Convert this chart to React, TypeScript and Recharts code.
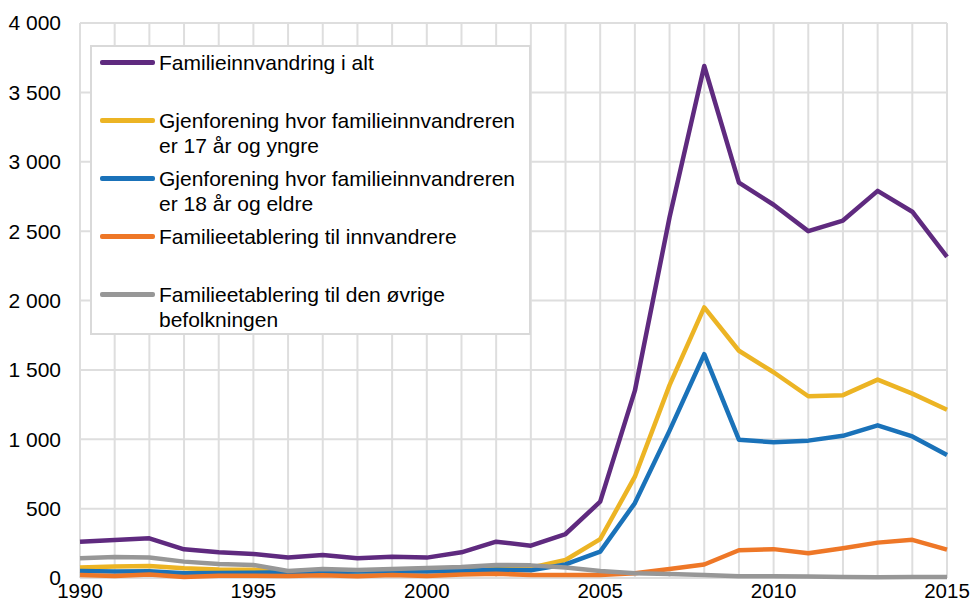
import React from "react";
import { LineChart, Line, XAxis, YAxis, CartesianGrid, Legend } from "recharts";

const years = [
  1990, 1991, 1992, 1993, 1994, 1995, 1996, 1997, 1998, 1999, 2000, 2001, 2002,
  2003, 2004, 2005, 2006, 2007, 2008, 2009, 2010, 2011, 2012, 2013, 2014, 2015,
];
const yTicks = [0, 500, 1000, 1500, 2000, 2500, 3000, 3500, 4000];

const total = [
  262, 274, 286, 207, 185, 173, 147, 166, 142, 154, 147, 185, 262, 233, 317, 550,
  1350, 2600, 3690, 2850, 2690, 2500, 2576, 2790, 2640, 2315,
];
const young = [
  75, 82, 86, 70, 62, 60, 46, 50, 48, 52, 55, 60, 70, 75, 130, 280, 730, 1390,
  1950, 1638, 1483, 1310, 1318, 1430, 1329, 1213,
];
const adult = [
  50, 46, 48, 34, 36, 38, 41, 41, 46, 46, 46, 50, 60, 55, 98, 190, 540, 1062,
  1613, 997, 978, 990, 1025, 1100, 1020, 887,
];
const estabImm = [
  22, 14, 26, 7, 17, 17, 14, 19, 12, 22, 14, 26, 31, 22, 22, 22, 35, 65, 97, 200,
  208, 178, 215, 255, 275, 205,
];
const estabRest = [
  142, 151, 147, 118, 101, 94, 50, 65, 58, 65, 72, 79, 94, 91, 75, 50, 34, 29, 22,
  12, 12, 10, 8, 5, 8, 7,
];

const seriesKeys = ["total", "young", "adult", "estabImm", "estabRest"];
const seriesNames = [
  "Familieinnvandring i alt",
  "Gjenforening hvor familieinnvandreren\ner 17 år og yngre",
  "Gjenforening hvor familieinnvandreren\ner 18 år og eldre",
  "Familieetablering til innvandrere",
  "Familieetablering til den øvrige\nbefolkningen",
];
const seriesColors = ["#5f2a7f", "#ecb424", "#1a72b9", "#ee7727", "#979797"];

const data = years.map((year, i) => ({
  year,
  total: total[i],
  young: young[i],
  adult: adult[i],
  estabImm: estabImm[i],
  estabRest: estabRest[i],
}));

const FONT = "'Liberation Sans', Arial, sans-serif";

const fmt = (v: number) =>
  String(v).replace(/\B(?=(\d{3})+(?!\d))/g, " ");

const LegendBox = () => {
  return (
    <div
      style={{
        width: 441,
        height: 290,
        boxSizing: "border-box",
        border: "2px solid #d9d9d9",
        background: "#fff",
        paddingTop: 3,
        fontFamily: FONT,
        fontSize: 21,
        color: "#000",
      }}
    >
      {seriesNames.map((name, i) => (
        <div key={i} style={{ display: "flex", height: 58 }}>
          <div
            style={{
              width: 55,
              height: 4.5,
              marginLeft: 8,
              marginTop: 10.25,
              marginRight: 4,
              borderRadius: 2,
              background: seriesColors[i],
              flexShrink: 0,
            }}
          />
          <div style={{ whiteSpace: "pre", lineHeight: "25px" }}>{name}</div>
        </div>
      ))}
    </div>
  );
};

export default function App() {
  return (
    <div style={{ position: "absolute", left: 0, top: 0, background: "#fff" }}>
      <LineChart
        width={971}
        height={604}
        data={data}
        margin={{ top: 23, right: 24, left: 10, bottom: 0 }}
      >
        <CartesianGrid stroke="#dedede" strokeWidth={2} />
        <XAxis
          dataKey="year"
          type="number"
          domain={[1990, 2015]}
          ticks={years}
          interval={0}
          tickFormatter={(v: number) => (v % 5 === 0 ? String(v) : "")}
          axisLine={false}
          tickLine={false}
          tickSize={0}
          tickMargin={5}
          height={26}
          tick={{ fill: "#000", fontSize: 20.5, fontFamily: FONT }}
        />
        <YAxis
          domain={[0, 4000]}
          ticks={yTicks}
          interval={0}
          tickFormatter={fmt}
          axisLine={false}
          tickLine={false}
          tickSize={0}
          tickMargin={19}
          width={70}
          tick={{ fill: "#000", fontSize: 21, fontFamily: FONT }}
        />
        <Legend
          layout="vertical"
          align="center"
          verticalAlign="middle"
          content={<LegendBox />}
          wrapperStyle={{ left: 90, top: 45, width: 441, height: 290 }}
        />
        {seriesKeys.map((key, i) => (
          <Line
            key={key}
            dataKey={key}
            name={seriesNames[i]}
            stroke={seriesColors[i]}
            strokeWidth={4.5}
            dot={false}
            strokeLinejoin="round"
            isAnimationActive={false}
          />
        ))}
      </LineChart>
    </div>
  );
}
